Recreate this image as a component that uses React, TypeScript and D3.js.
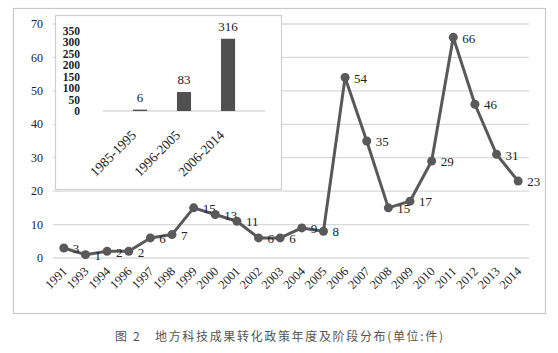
import React from "react";
import * as d3 from "d3";

const years = ["1991", "1993", "1994", "1996", "1997", "1998", "1999", "2000", "2001", "2002", "2003", "2004", "2005", "2006", "2007", "2008", "2009", "2010", "2011", "2012", "2013", "2014"];
const counts = [3, 1, 2, 2, 6, 7, 15, 13, 11, 6, 6, 9, 8, 54, 35, 15, 17, 29, 66, 46, 31, 23];
const yTicks = [0, 10, 20, 30, 40, 50, 60, 70];

const stages = ["1985-1995", "1996-2005", "2006-2014"];
const stageCounts = [6, 83, 316];
const stageTicks = [0, 50, 100, 150, 200, 250, 300, 350];

const caption = "图 2　地方科技成果转化政策年度及阶段分布(单位:件)";

const W = 558;
const H = 353;
const serif = "'Liberation Serif', 'DejaVu Serif', serif";
const lineColor = "#595959";

export default function App() {
  // main line chart
  const x = d3.scalePoint<string>().domain(years).range([53, 529]).padding(0.5);
  const y = d3.scaleLinear().domain([0, 70]).range([258, 24]);
  const line = d3
    .line<number>()
    .x((d, i) => x(years[i]) as number)
    .y((d) => y(d));

  // inset bar chart
  const bx = d3.scaleBand<string>().domain(stages).range([103, 265]).padding(0.68);
  const by = d3.scaleLinear().domain([0, 350]).range([111, 31]);

  return (
    <div style={{ position: "absolute", left: 0, top: 0 }}>
      <svg width={W} height={H} style={{ display: "block", background: "#fff" }}>
        <rect x={13.5} y={8.5} width={532} height={305} fill="none" stroke="#c8c8c8" strokeWidth={1.2} />

        {yTicks.map((t) => (
          <g key={t}>
            <line x1={53} x2={529} y1={y(t)} y2={y(t)} stroke="#d9d9d9" strokeWidth={1.3} />
            <text x={43} y={y(t)} dy="0.35em" textAnchor="end" fontFamily={serif} fontSize={12} fill="#222">
              {t}
            </text>
          </g>
        ))}

        {years.map((yr) => (
          <text
            key={yr}
            transform={`translate(${(x(yr) as number) + 4},${272}) rotate(-45)`}
            textAnchor="end"
            fontFamily={serif}
            fontSize={12.5}
            fill="#222"
          >
            {yr}
          </text>
        ))}

        <rect x={55.5} y={15.5} width={226} height={174} fill="#fff" stroke="#d0d0d0" strokeWidth={1.2} />
        {stageTicks.map((t) => (
          <text key={t} x={80} y={by(t)} dy="0.35em" textAnchor="end" fontFamily={serif} fontSize={11.5} fontWeight="bold" fill="#222">
            {t}
          </text>
        ))}
        <line x1={103} x2={265} y1={by(0)} y2={by(0)} stroke="#d9d9d9" strokeWidth={1.3} />
        {stages.map((s, i) => (
          <g key={s}>
            <rect
              x={bx(s)}
              y={by(stageCounts[i])}
              width={bx.bandwidth()}
              height={by(0) - by(stageCounts[i])}
              fill="#505050"
            />
            <text
              x={(bx(s) as number) + bx.bandwidth() / 2}
              y={by(stageCounts[i]) - 8}
              textAnchor="middle"
              fontFamily={serif}
              fontSize={13}
              fill="#222"
            >
              {stageCounts[i]}
            </text>
            <text
              transform={`translate(${(bx(s) as number) + bx.bandwidth() / 2 - 3},${136}) rotate(-45)`}
              textAnchor="end"
              fontFamily={serif}
              fontSize={13.5}
              fill="#222"
            >
              {s}
            </text>
          </g>
        ))}

        <path d={line(counts) as string} fill="none" stroke={lineColor} strokeWidth={3} strokeLinejoin="round" />
        {counts.map((v, i) => (
          <g key={years[i]}>
            <circle cx={x(years[i])} cy={y(v)} r={4.5} fill={lineColor} />
            <text
              x={(x(years[i]) as number) + 9}
              y={y(v)}
              dy="0.4em"
              fontFamily={serif}
              fontSize={13}
              fill="#222"
            >
              {v}
            </text>
          </g>
        ))}

        <text
          x={279}
          y={337}
          dy="0.35em"
          textAnchor="middle"
          fontFamily="'Noto Sans CJK SC', sans-serif"
          fontSize={12}
          fill="#555"
          textLength={328}
          lengthAdjust="spacing"
        >
          {caption}
        </text>
      </svg>
    </div>
  );
}
